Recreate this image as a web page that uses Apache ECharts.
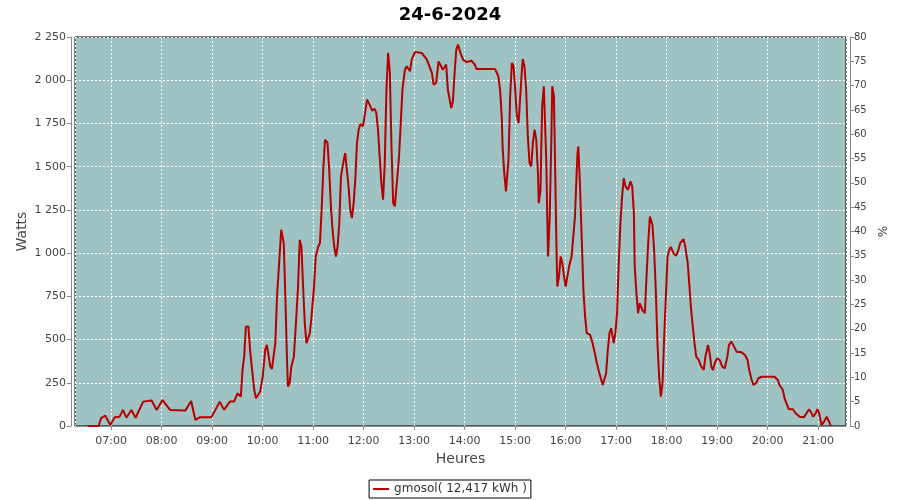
<!DOCTYPE html>
<html><head><meta charset="utf-8">
<script src="https://cdn.jsdelivr.net/npm/echarts@6/dist/echarts.min.js"></script>
<style>html,body{margin:0;padding:0;background:#fff}#c{width:900px;height:500px}</style>
</head><body><div id="c"></div>
<script>
const chartTitle = '24-6-2024';
const seriesName = 'gmosol( 12,417 kWh )';
const times = ['06:32','06:45','06:48','06:53','06:59','07:04','07:10','07:14','07:18','07:24','07:29','07:38','07:48','07:54','08:01','08:10','08:28','08:35','08:40','08:45','08:59','09:09','09:14','09:21','09:26','09:30','09:34','09:36','09:38','09:40','09:43','09:45','09:47','09:50','09:52','09:57','10:00','10:03','10:05','10:09','10:11','10:15','10:17','10:20','10:22','10:25','10:27','10:29','10:30','10:32','10:34','10:37','10:39','10:42','10:44','10:46','10:48','10:50','10:52','10:54','10:56','10:58','11:01','11:03','11:06','11:08','11:10','11:12','11:14','11:17','11:19','11:21','11:23','11:25','11:27','11:29','11:31','11:33','11:36','11:38','11:40','11:42','11:44','11:46','11:48','11:50','11:52','11:54','11:56','11:59','12:01','12:04','12:07','12:10','12:13','12:15','12:17','12:19','12:21','12:23','12:25','12:27','12:29','12:31','12:33','12:35','12:37','12:39','12:42','12:44','12:46','12:49','12:51','12:55','12:57','13:01','13:09','13:15','13:21','13:23','13:26','13:29','13:31','13:34','13:38','13:40','13:44','13:46','13:48','13:50','13:52','13:55','13:58','14:02','14:08','14:12','14:14','14:24','14:36','14:40','14:42','14:44','14:45','14:47','14:49','14:52','14:54','14:56','14:58','15:00','15:02','15:04','15:06','15:08','15:09','15:11','15:13','15:15','15:17','15:19','15:21','15:23','15:25','15:27','15:28','15:30','15:32','15:34','15:36','15:37','15:38','15:39','15:41','15:43','15:44','15:46','15:47','15:48','15:49','15:50','15:52','15:54','15:56','15:58','16:00','16:02','16:04','16:07','16:09','16:11','16:13','16:14','16:15','16:17','16:18','16:20','16:21','16:23','16:25','16:29','16:32','16:35','16:37','16:40','16:44','16:46','16:48','16:50','16:52','16:54','16:57','16:59','17:01','17:03','17:05','17:07','17:09','17:11','17:14','17:17','17:19','17:21','17:22','17:24','17:26','17:28','17:31','17:34','17:36','17:38','17:40','17:43','17:45','17:47','17:49','17:51','17:53','17:55','17:57','17:59','18:01','18:03','18:05','18:08','18:11','18:14','18:16','18:20','18:22','18:25','18:27','18:29','18:31','18:33','18:35','18:38','18:41','18:44','18:46','18:49','18:51','18:53','18:55','18:57','19:00','19:03','19:06','19:09','19:12','19:14','19:17','19:20','19:23','19:29','19:33','19:36','19:38','19:41','19:43','19:46','19:49','19:53','20:08','20:12','20:14','20:18','20:20','20:23','20:25','20:30','20:33','20:38','20:43','20:46','20:49','20:51','20:54','20:57','20:59','21:01','21:04','21:07','21:10','21:13','21:15'];
const watts = [0,0,45,60,5,50,54,93,48,93,48,141,147,93,150,93,89,145,35,50,50,141,93,141,141,189,170,324,401,575,575,440,343,208,160,199,285,440,469,343,330,479,749,980,1135,1058,730,363,228,247,343,401,556,807,1077,1038,807,595,479,469,537,633,807,980,1038,1058,1251,1482,1656,1637,1482,1270,1135,1038,980,1038,1174,1444,1531,1579,1482,1386,1251,1203,1289,1424,1637,1714,1747,1733,1791,1888,1859,1824,1835,1810,1714,1559,1405,1309,1521,1945,2158,2050,1620,1290,1270,1386,1559,1752,1945,2061,2081,2052,2119,2164,2158,2119,2042,1974,1984,2109,2100,2061,2090,1945,1839,1878,2042,2177,2206,2158,2119,2105,2113,2090,2065,2065,2065,2022,1945,1791,1617,1463,1357,1540,1907,2100,2081,1945,1791,1752,1907,2061,2123,2081,1945,1675,1521,1501,1637,1714,1656,1463,1289,1366,1849,1965,1965,1521,1231,980,1212,1675,1965,1907,1617,1328,1038,807,865,980,942,865,807,865,922,980,1096,1212,1463,1579,1617,1386,1231,942,787,633,537,527,479,411,363,305,237,247,305,440,537,566,479,537,652,942,1174,1328,1434,1386,1366,1415,1386,1231,922,768,652,710,672,652,865,1058,1212,1164,1019,787,479,285,170,247,517,749,980,1019,1035,1000,984,1019,1058,1081,1038,942,807,672,575,479,401,382,343,324,401,469,421,343,324,363,392,382,343,334,401,469,488,459,430,426,411,382,324,266,237,247,276,285,285,266,237,208,160,122,97,97,74,54,50,74,97,83,54,74,97,74,5,25,54,25,0];
const xMinTime = '06:17', xMaxTime = '21:33';
const leftMin = 0, leftMax = 2250, leftStep = 250;
const rightMin = 0, rightMax = 80, rightStep = 5;

function ts(s){const p=s.split(':');return new Date(2024,5,24,+p[0],+p[1]).getTime();}
function pad(n){return (n<10?'0':'')+n;}
const data = times.map((t,i)=>[ts(t), watts[i]]);
const font = 'DejaVu Sans';
const chart = echarts.init(document.getElementById('c'));
chart.setOption({
  animation:false,
  backgroundColor:'#ffffff',
  title:{text:chartTitle,left:'center',top:1,textStyle:{fontFamily:font,fontSize:18,fontWeight:'bold',color:'#000'}},
  legend:{bottom:2,left:'center',borderColor:'#000',borderWidth:1,padding:[3,4,3,4],borderRadius:0,itemWidth:16,itemHeight:2,itemGap:4,
    textStyle:{fontFamily:font,fontSize:12,color:'#333'},data:[{name:seriesName,icon:'rect'}]},
  grid:{left:75,right:54,top:37,bottom:74,show:true,backgroundColor:'#9EC3C2',borderColor:'#000',borderWidth:1,containLabel:false},
  xAxis:{type:'time',min:ts(xMinTime),max:ts(xMaxTime),minInterval:3600000,maxInterval:3600000,offset:4,
    name:'Heures',nameLocation:'middle',nameGap:22,nameMoveOverlap:false,nameTextStyle:{fontFamily:font,fontSize:14,color:'#444'},
    axisLine:{show:true,lineStyle:{color:'#888',width:1}},axisTick:{show:true,length:4,lineStyle:{color:'#888'}},
    axisLabel:{fontFamily:font,fontSize:11,color:'#444',margin:6,formatter:function(v){const d=new Date(v);return pad(d.getHours())+':'+pad(d.getMinutes());}},
    splitLine:{show:true,lineStyle:{color:'#fff',type:[2,2],width:1}},minorTick:{show:false}},
  yAxis:[
    {type:'value',min:leftMin,max:leftMax,interval:leftStep,position:'left',offset:4,
      name:'Watts',nameLocation:'middle',nameGap:42,nameMoveOverlap:false,nameRotate:90,nameTextStyle:{fontFamily:font,fontSize:14,color:'#444'},
      axisLine:{show:true,lineStyle:{color:'#888'}},axisTick:{show:true,length:4,lineStyle:{color:'#888'}},
      axisLabel:{fontFamily:font,fontSize:11,color:'#444',margin:5,formatter:function(v){return v>=1000?Math.floor(v/1000)+' '+String(v%1000).padStart(3,'0'):String(v);}},
      splitLine:{show:true,lineStyle:{color:'#fff',type:[2,2],width:1}}},
    {type:'value',min:rightMin,max:rightMax,interval:rightStep,position:'right',offset:4,
      name:'%',nameLocation:'middle',nameGap:25,nameMoveOverlap:false,nameRotate:-90,nameTextStyle:{fontFamily:font,fontSize:12,color:'#444'},
      axisLine:{show:true,lineStyle:{color:'#888'}},axisTick:{show:true,length:4,lineStyle:{color:'#888'}},
      axisLabel:{fontFamily:font,fontSize:10,color:'#444',margin:4},
      splitLine:{show:false}}
  ],
  series:[{name:seriesName,type:'line',yAxisIndex:0,data:data,symbol:'none',showSymbol:false,
    lineStyle:{color:'#B40000',width:2},itemStyle:{color:'#B40000'}}]
});
</script></body></html>
